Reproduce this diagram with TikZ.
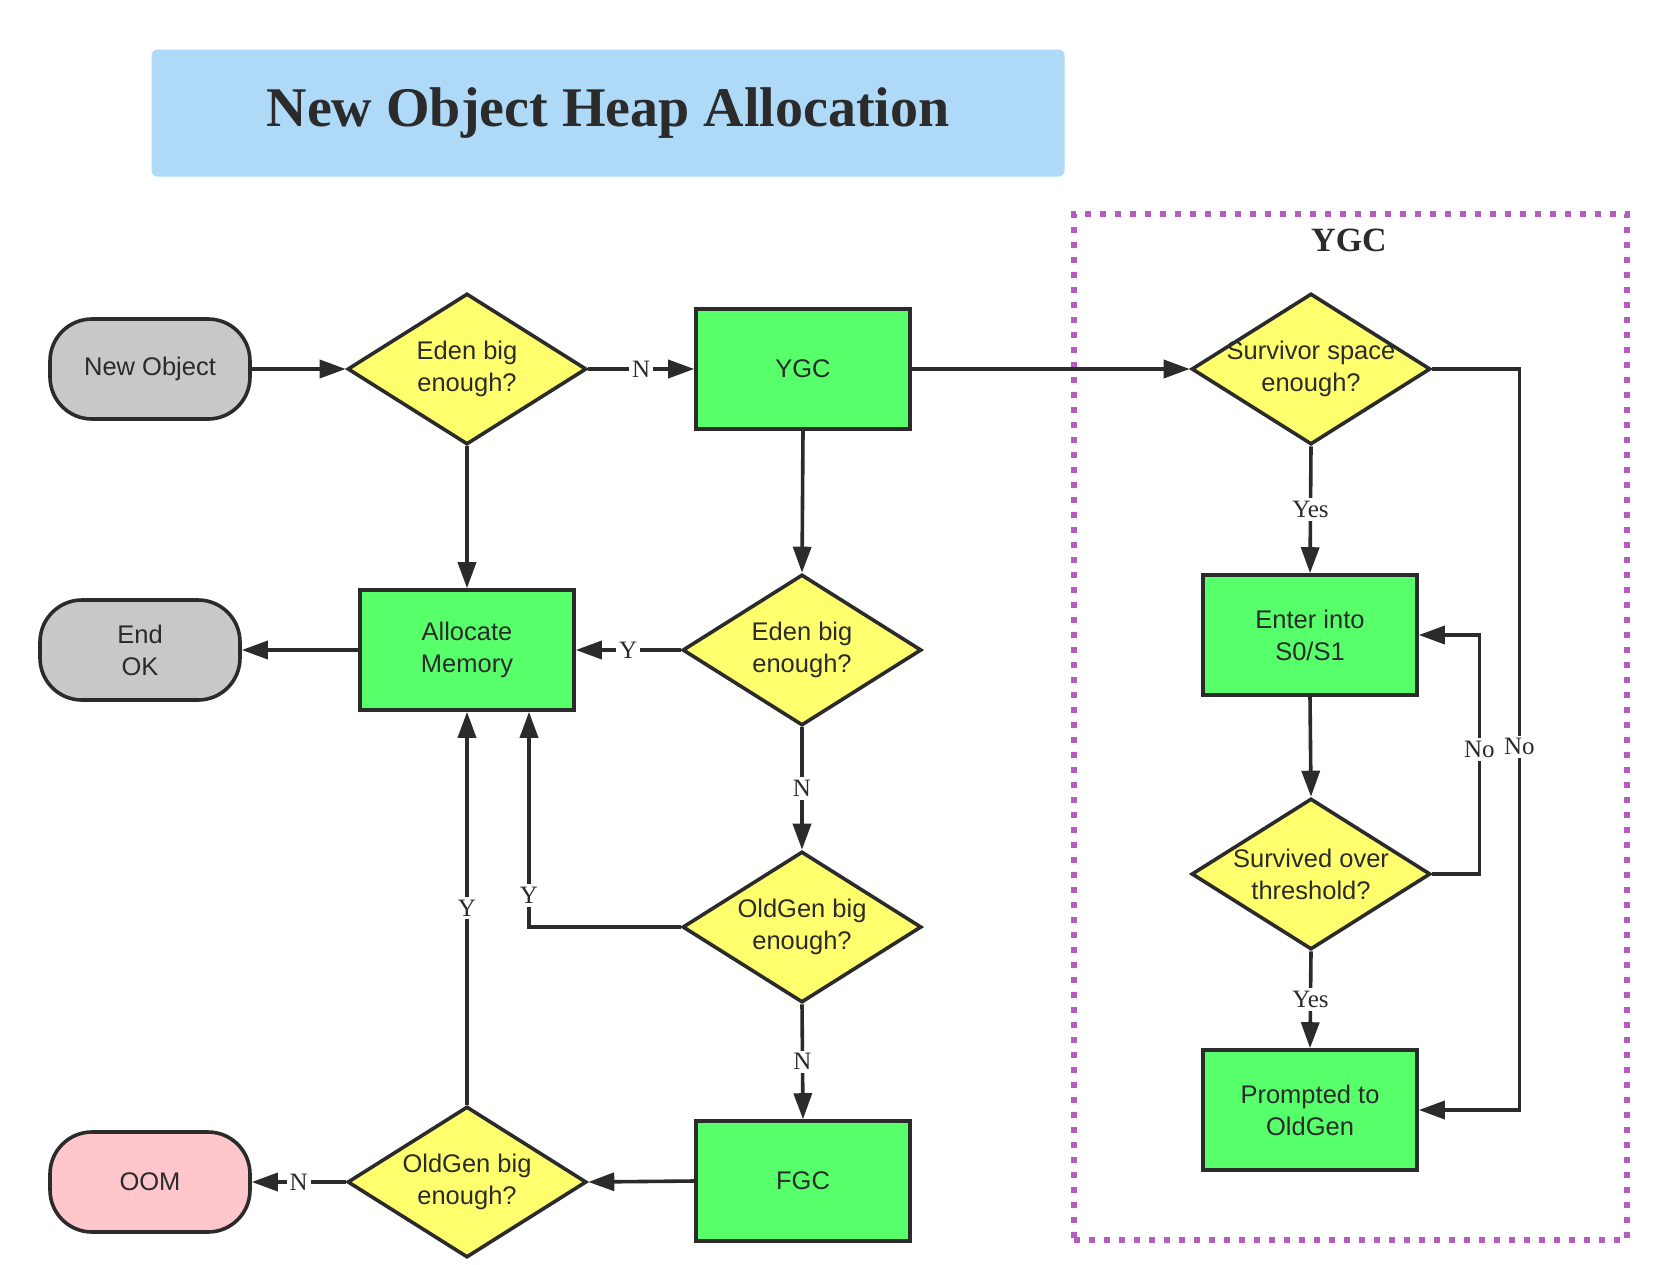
\documentclass[tikz,border=0pt]{standalone}
\usepackage{fontspec}
\setmainfont{Liberation Serif}
\newfontfamily\arialf{Liberation Sans}
\usetikzlibrary{shapes.geometric,arrows.meta,calc}
\definecolor{ink}{HTML}{2B2B2B}
\definecolor{grn}{HTML}{57FF6B}
\definecolor{yel}{HTML}{FFFF6E}
\definecolor{gry}{HTML}{C8C8C8}
\definecolor{pnk}{HTML}{FFC6CC}
\definecolor{ttl}{HTML}{AEDAF8}
\definecolor{pur}{HTML}{B45CC0}
\begin{document}
\begin{tikzpicture}[x=1pt,y=-1pt,
 base/.style={draw=ink, line width=3.6pt, text=ink, font=\arialf\fontsize{25.5}{32}\selectfont, align=center},
 proc/.style={base, rectangle, fill=grn, minimum width=214pt, minimum height=120pt, inner sep=0pt},
 term/.style={base, rectangle, rounded corners=42pt, fill=gry, minimum width=200pt, minimum height=100pt, inner sep=0pt},
 dia/.style={base, diamond, fill=yel, minimum width=239pt, minimum height=151pt, inner sep=0pt},
 dtxt/.style={text=ink, font=\arialf\fontsize{25.5}{32}\selectfont, align=center, inner sep=0pt},
 arr/.style={draw=ink, line width=3.6pt, -{Triangle[length=26pt,width=18pt]}},
 lbl/.style={fill=white, text=ink, font=\fontsize{25}{27}\selectfont, inner sep=3pt},
]
\useasboundingbox (0,0) rectangle (1662,1264);
\fill[white] (0,0) rectangle (1662,1264);

% title
\node[fill=ttl, rounded corners=6pt, minimum width=913pt, minimum height=127pt, text=ink,
      font=\bfseries\fontsize{56}{60}\selectfont] (title) at (608,113) {New Object Heap Allocation};

% YGC group frame
\node[draw=pur, line width=6pt, dash pattern=on 6pt off 9pt, minimum width=553pt, minimum height=1026pt, inner sep=0pt] (ygcbox) at (1350.5,727) {};
\node[text=ink, font=\bfseries\fontsize{34}{36}\selectfont] (ygclbl) at (1349,240) {YGC};

% nodes
\node[term] (no) at (150,369) {New Object};
\node[dia, label={[dtxt]center:Eden big\\enough?}] (d1) at (467,369) {};
\node[proc] (ygc) at (803,369) {YGC};
\node[dia, label={[dtxt]center:Survivor space\\enough?}] (ss) at (1311,369) {};

\node[term] (eok) at (140,650) {End\\OK};
\node[proc] (am) at (467,650) {Allocate\\Memory};
\node[dia, label={[dtxt]center:Eden big\\enough?}] (d2) at (802,650) {};
\node[proc] (es) at (1310,635) {Enter into\\S0/S1};

\node[dia, label={[dtxt]center:Survived over\\threshold?}] (so) at (1311,874) {};
\node[dia, label={[dtxt]center:OldGen big\\enough?}] (og1) at (802,927) {};
\node[proc] (pg) at (1310,1110) {Prompted to\\OldGen};

\node[term, fill=pnk] (oom) at (150,1182) {OOM};
\node[dia, label={[dtxt]center:OldGen big\\enough?}] (og2) at (467,1182) {};
\node[proc] (fgc) at (803,1181) {FGC};

% connectors
\draw[arr] (no.east) -- (d1.west);
\draw[arr] (d1.east) -- node[lbl]{N} (ygc.west);
\draw[arr] (d1.south) -- (am.north);
\draw[arr] (ygc.east) -- (ss.west);
\draw[arr] (ygc.south) -- (d2.north);
\draw[arr] (d2.west) -- node[lbl]{Y} (am.east);
\draw[arr] (am.west) -- (eok.east);
\draw[arr] (d2.south) -- node[lbl]{N} (og1.north);
\draw[arr] (og1.west) -| node[lbl,pos=0.573]{Y} ([xshift=62pt]am.south);
\draw[arr] (og1.south) -- node[lbl]{N} (fgc.north);
\draw[arr] (fgc.west) -- (og2.east);
\draw[arr] (og2.north) -- node[lbl]{Y} (am.south);
\draw[arr] (og2.west) -- node[lbl]{N} (oom.east);
\draw[arr] (ss.south) -- node[lbl]{Yes} (es.north);
\draw[arr] (es.south) -- (so.north);
\draw[arr] (so.east) -- ++(47,0) |- node[lbl,pos=0.26]{No} (es.east);
\draw[arr] (ss.east) -- ++(87,0) |- node[lbl,pos=0.255]{No} (pg.east);
\draw[arr] (so.south) -- node[lbl]{Yes} (pg.north);
\end{tikzpicture}
\end{document}
